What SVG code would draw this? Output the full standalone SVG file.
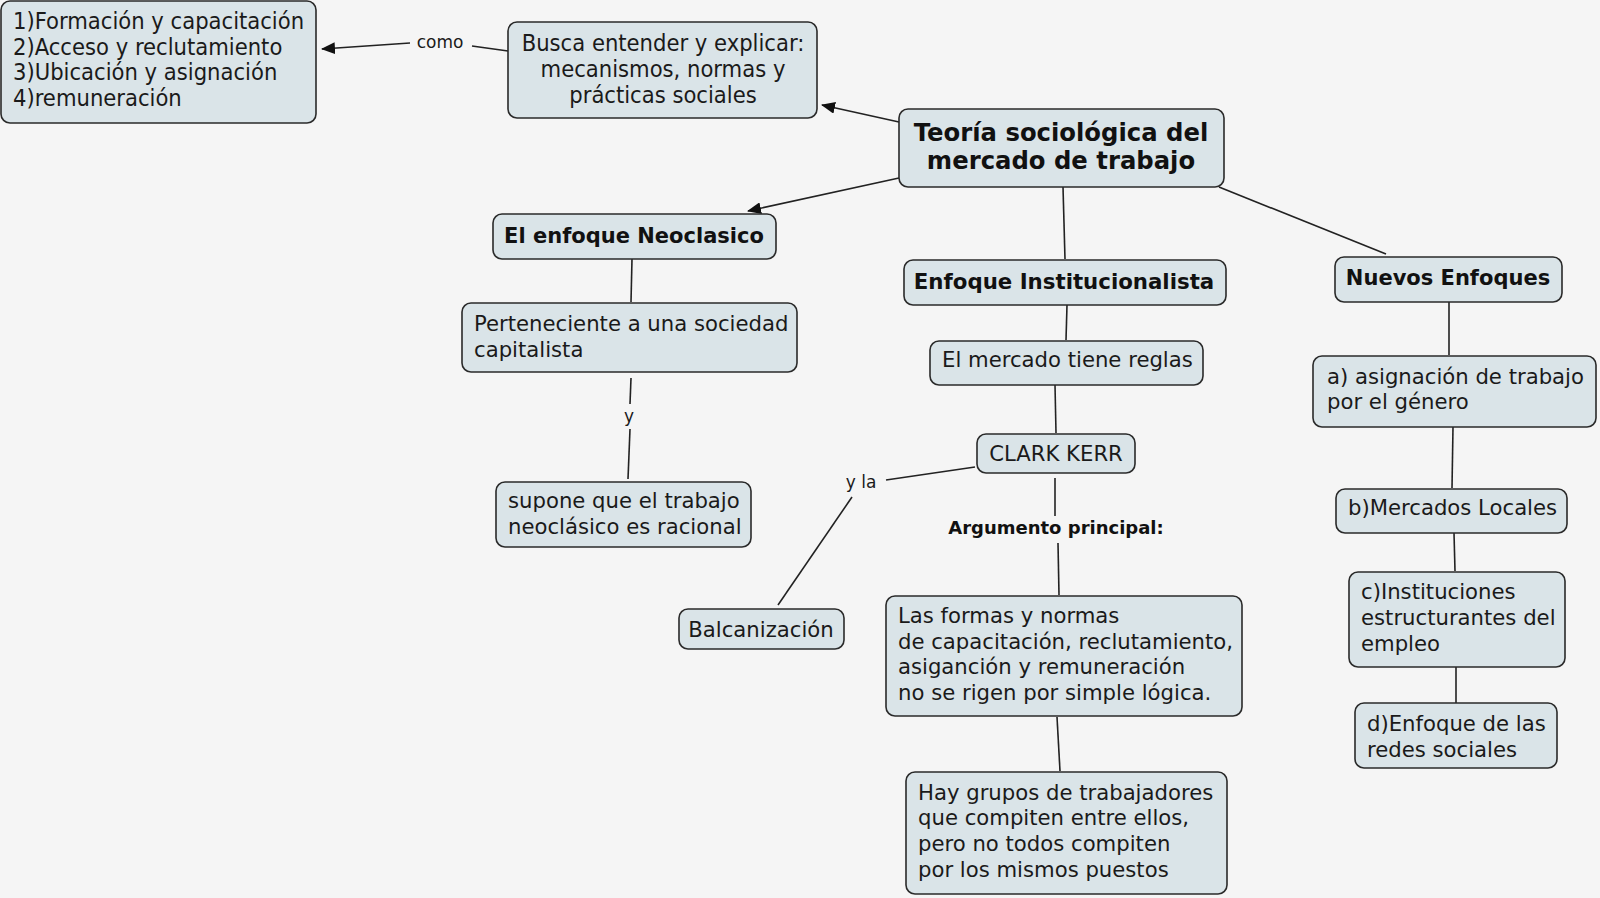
<svg xmlns="http://www.w3.org/2000/svg" width="1600" height="898" viewBox="0 0 1600 898">
<defs>
<marker id="arr" markerWidth="14" markerHeight="12" refX="13" refY="6" orient="auto" markerUnits="userSpaceOnUse">
<path d="M0,0 L14,6 L0,12 z" fill="#111"/>
</marker>
<style>
.box{fill:#dae4e8;stroke:#2a2a2a;stroke-width:1.6}
.t{font-family:"DejaVu Sans",Verdana,sans-serif;font-size:21.2px;fill:#1a1a1a}
.c{font-family:"DejaVu Sans Condensed","DejaVu Sans",sans-serif;font-size:23.5px;fill:#1a1a1a}
.b{font-family:"DejaVu Sans",Verdana,sans-serif;font-size:21px;font-weight:bold;fill:#111}
.lbl{font-family:"DejaVu Sans",Verdana,sans-serif;font-size:17px;fill:#1a1a1a}
.ln{stroke:#222;stroke-width:1.6;fill:none}
</style>
</defs>
<rect width="1600" height="898" fill="#f5f5f5"/>
<g id="connectors">
<line class="ln" x1="508" y1="51" x2="472" y2="46"/>
<line class="ln" x1="410" y1="43" x2="322" y2="49" marker-end="url(#arr)"/>
<text class="lbl" x="440" y="48" text-anchor="middle">como</text>
<line class="ln" x1="899" y1="122" x2="822" y2="105" marker-end="url(#arr)"/>
<line class="ln" x1="899" y1="178" x2="748" y2="211" marker-end="url(#arr)"/>
<line class="ln" x1="1063" y1="187" x2="1065" y2="259"/>
<line class="ln" x1="1219" y1="187" x2="1386" y2="254"/>
<line class="ln" x1="632" y1="259" x2="631" y2="302"/>
<line class="ln" x1="631" y1="378" x2="630" y2="404"/>
<text class="lbl" x="629" y="422" text-anchor="middle">y</text>
<line class="ln" x1="630" y1="429" x2="628" y2="479"/>
<line class="ln" x1="1067" y1="305" x2="1066" y2="340"/>
<line class="ln" x1="1055" y1="385" x2="1056" y2="433"/>
<line class="ln" x1="975" y1="467" x2="886" y2="480"/>
<text class="lbl" x="861" y="488" text-anchor="middle">y la</text>
<line class="ln" x1="852" y1="497" x2="778" y2="605"/>
<line class="ln" x1="1055" y1="478" x2="1055" y2="516"/>
<text class="b" x="1056" y="534" text-anchor="middle" style="font-size:18px">Argumento principal:</text>
<line class="ln" x1="1058" y1="543" x2="1059" y2="595"/>
<line class="ln" x1="1057" y1="717" x2="1060" y2="771"/>
<line class="ln" x1="1449" y1="302" x2="1449" y2="355"/>
<line class="ln" x1="1453" y1="427" x2="1452" y2="488"/>
<line class="ln" x1="1454" y1="533" x2="1455" y2="571"/>
<line class="ln" x1="1456" y1="667" x2="1456" y2="703"/>
</g>
<g id="n-actividades">
<rect class="box" x="1" y="1" width="315" height="122" rx="9"/>
<text class="c" x="13" y="29">1)Formación y capacitación</text>
<text class="c" x="13" y="55">2)Acceso y reclutamiento</text>
<text class="c" x="13" y="80">3)Ubicación y asignación</text>
<text class="c" x="13" y="106">4)remuneración</text>
</g>
<g id="n-busca">
<rect class="box" x="508" y="22" width="309" height="96" rx="9"/>
<text class="c" x="663" y="51" text-anchor="middle">Busca entender y explicar:</text>
<text class="c" x="663" y="77" text-anchor="middle">mecanismos, normas y</text>
<text class="c" x="663" y="103" text-anchor="middle">prácticas sociales</text>
</g>
<g id="n-teoria">
<rect class="box" x="899" y="109" width="325" height="78" rx="9"/>
<text class="b" x="1061" y="141" text-anchor="middle" style="font-size:24.3px">Teoría sociológica del</text>
<text class="b" x="1061" y="169" text-anchor="middle" style="font-size:24.3px">mercado de trabajo</text>
</g>
<g id="n-neoclasico">
<rect class="box" x="493" y="214" width="283" height="45" rx="9"/>
<text class="b" x="634" y="243" text-anchor="middle">El enfoque Neoclasico</text>
</g>
<g id="n-institucionalista">
<rect class="box" x="904" y="260" width="322" height="45" rx="9"/>
<text class="b" x="1064" y="289" text-anchor="middle" style="font-size:21.3px">Enfoque Institucionalista</text>
</g>
<g id="n-nuevos">
<rect class="box" x="1335" y="257" width="227" height="45" rx="9"/>
<text class="b" x="1448" y="285" text-anchor="middle">Nuevos Enfoques</text>
</g>
<g id="n-perteneciente">
<rect class="box" x="462" y="303" width="335" height="69" rx="9"/>
<text class="t" x="474" y="331">Perteneciente a una sociedad</text>
<text class="t" x="474" y="357">capitalista</text>
</g>
<g id="n-supone">
<rect class="box" x="496" y="482" width="255" height="65" rx="9"/>
<text class="t" x="508" y="508">supone que el trabajo</text>
<text class="t" x="508" y="534">neoclásico es racional</text>
</g>
<g id="n-reglas">
<rect class="box" x="930" y="341" width="273" height="44" rx="9"/>
<text class="t" x="942" y="367">El mercado tiene reglas</text>
</g>
<g id="n-clark">
<rect class="box" x="977" y="434" width="158" height="39" rx="9"/>
<text class="t" x="1056" y="461" text-anchor="middle">CLARK KERR</text>
</g>
<g id="n-balcanizacion">
<rect class="box" x="679" y="609" width="165" height="40" rx="9"/>
<text class="t" x="761" y="637" text-anchor="middle">Balcanización</text>
</g>
<g id="n-formas">
<rect class="box" x="886" y="596" width="356" height="120" rx="9"/>
<text class="t" x="898" y="623">Las formas y normas</text>
<text class="t" x="898" y="649">de capacitación, reclutamiento,</text>
<text class="t" x="898" y="674">asiganción y remuneración</text>
<text class="t" x="898" y="700">no se rigen por simple lógica.</text>
</g>
<g id="n-grupos">
<rect class="box" x="906" y="772" width="321" height="122" rx="9"/>
<text class="t" x="918" y="800">Hay grupos de trabajadores</text>
<text class="t" x="918" y="825">que compiten entre ellos,</text>
<text class="t" x="918" y="851">pero no todos compiten</text>
<text class="t" x="918" y="877">por los mismos puestos</text>
</g>
<g id="n-a">
<rect class="box" x="1313" y="356" width="283" height="71" rx="9"/>
<text class="t" x="1327" y="384">a) asignación de trabajo</text>
<text class="t" x="1327" y="409">por el género</text>
</g>
<g id="n-b">
<rect class="box" x="1336" y="489" width="231" height="44" rx="9"/>
<text class="t" x="1348" y="515">b)Mercados Locales</text>
</g>
<g id="n-c">
<rect class="box" x="1349" y="572" width="216" height="95" rx="9"/>
<text class="t" x="1361" y="599">c)Instituciones</text>
<text class="t" x="1361" y="625">estructurantes del</text>
<text class="t" x="1361" y="651">empleo</text>
</g>
<g id="n-d">
<rect class="box" x="1355" y="703" width="202" height="65" rx="9"/>
<text class="t" x="1367" y="731">d)Enfoque de las</text>
<text class="t" x="1367" y="757">redes sociales</text>
</g>
</svg>
